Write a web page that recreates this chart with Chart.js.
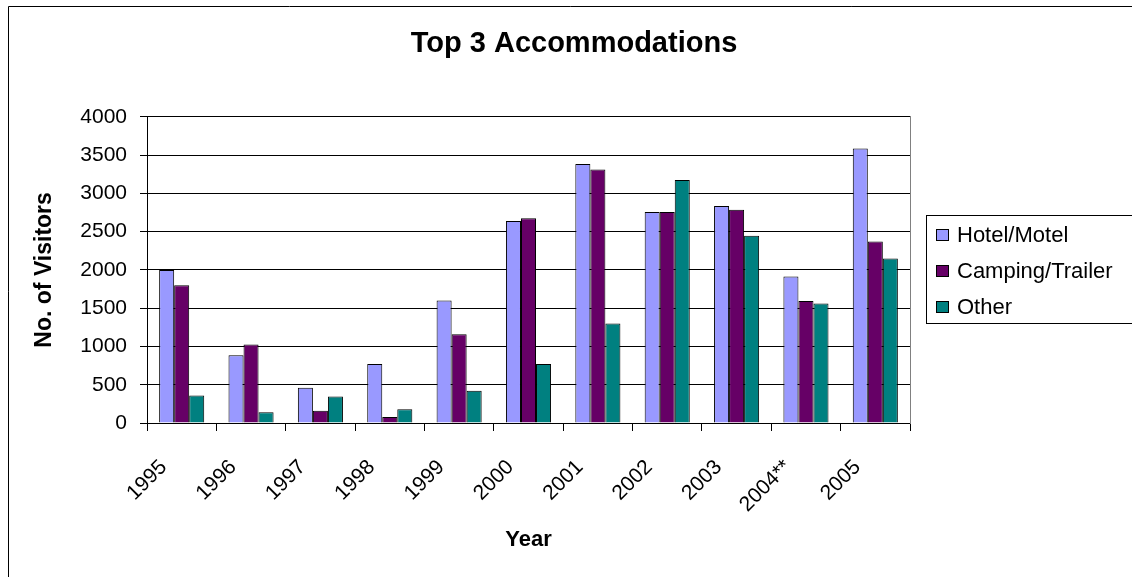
<!DOCTYPE html>
<html>
<head>
<meta charset="utf-8">
<title>Top 3 Accommodations</title>
<script src="https://cdn.jsdelivr.net/npm/chart.js@4.4.1/dist/chart.umd.min.js"></script>
<style>
    html, body { margin: 0; padding: 0; background: #fff; }
    #wrap { position: relative; width: 1132px; height: 577px; overflow: hidden; }
</style>
</head>
<body>
<div id="wrap"><canvas id="accomChart" width="1132" height="577"></canvas></div>
<script>
const years = ['1995', '1996', '1997', '1998', '1999', '2000', '2001', '2002', '2003', '2004**', '2005'];
const hotelMotel = [2000, 885, 460, 770, 1600, 2640, 3385, 2755, 2835, 1915, 3585];
const campingTrailer = [1800, 1025, 160, 80, 1160, 2675, 3310, 2755, 2785, 1595, 2370];
const otherAccom = [360, 140, 345, 180, 420, 770, 1300, 3175, 2445, 1560, 2150];

const seriesNames = ['Hotel/Motel', 'Camping/Trailer', 'Other'];
const seriesColors = ['#9999FF', '#660066', '#008080'];

const yMax = 4000;
const yStep = 500;

const FONT = '"Liberation Sans", Arial, sans-serif';
Chart.defaults.font.family = FONT;
Chart.defaults.color = '#000';

// outer frame + boxed legend on the right
const frameAndLegend = {
    id: 'frameAndLegend',
    beforeDraw(chart) {
        const ctx = chart.ctx;
        ctx.save();
        ctx.fillStyle = '#fff';
        ctx.fillRect(0, 0, chart.width, chart.height);
        ctx.strokeStyle = '#000';
        ctx.lineWidth = 1;
        ctx.beginPath();
        ctx.moveTo(8.5, chart.height);
        ctx.lineTo(8.5, 6.5);
        ctx.lineTo(chart.width, 6.5);
        ctx.stroke();
        ctx.restore();
    },
    afterDraw(chart) {
        const ctx = chart.ctx;
        const boxX = 926.5, boxY = 215.5, boxW = 220, boxH = 108;
        ctx.save();
        ctx.strokeStyle = '#000';
        ctx.lineWidth = 1;
        ctx.strokeRect(boxX, boxY, boxW, boxH);
        ctx.font = '22px ' + FONT;
        ctx.textBaseline = 'middle';
        chart.data.datasets.forEach((ds, i) => {
            const cy = 235 + i * 36;
            ctx.fillStyle = ds.backgroundColor;
            ctx.fillRect(936, cy - 6, 13, 12);
            ctx.strokeRect(936.5, cy - 5.5, 12, 11);
            ctx.fillStyle = '#000';
            ctx.fillText(ds.label, 957, cy + 1);
        });
        ctx.restore();
    }
};

const seriesData = [hotelMotel, campingTrailer, otherAccom];

new Chart(document.getElementById('accomChart'), {
    type: 'bar',
    data: {
        labels: years,
        datasets: seriesData.map((values, i) => ({
            label: seriesNames[i],
            data: values,
            backgroundColor: seriesColors[i],
            borderColor: '#000',
            borderWidth: 1,
            categoryPercentage: 0.65,
            barPercentage: 1,
        })),
    },
    options: {
        responsive: false,
        animation: false,
        layout: { padding: { left: 16, right: 0, top: 0, bottom: 0 } },
        plugins: {
            legend: { display: false },
            tooltip: { enabled: false },
            title: {
                display: true,
                text: 'Top 3 Accommodations',
                color: '#000',
                font: { size: 29, weight: 'bold' },
                padding: { top: 27, bottom: 55 },
            },
        },
        scales: {
            x: {
                grid: { drawOnChartArea: false, drawTicks: true, tickLength: 8, color: '#000' },
                border: { color: '#000' },
                ticks: { font: { size: 21 }, minRotation: 45, maxRotation: 45, padding: 24, labelOffset: -18 },
                title: { display: true, text: 'Year', font: { size: 22, weight: 'bold' }, padding: { top: 0, bottom: 24 } },
                afterFit(scale) { scale.height = 154; },
            },
            y: {
                min: 0,
                max: yMax,
                ticks: { stepSize: yStep, font: { size: 21 }, padding: 13, callback: (v) => String(v) },
                grid: { color: '#000', tickLength: 7 },
                border: { color: '#000' },
                title: { display: true, text: 'No. of Visitors', font: { size: 23, weight: 'bold' }, padding: { top: 15, bottom: 0 } },
                afterFit(scale) { scale.width = 131; },
            },
            side: {
                type: 'linear',
                position: 'right',
                grid: { drawOnChartArea: false, drawTicks: false },
                ticks: { display: false },
                border: { color: '#808080' },
                afterFit(scale) { scale.width = 222; },
            },
        },
    },
    plugins: [frameAndLegend],
});
</script>
</body>
</html>
